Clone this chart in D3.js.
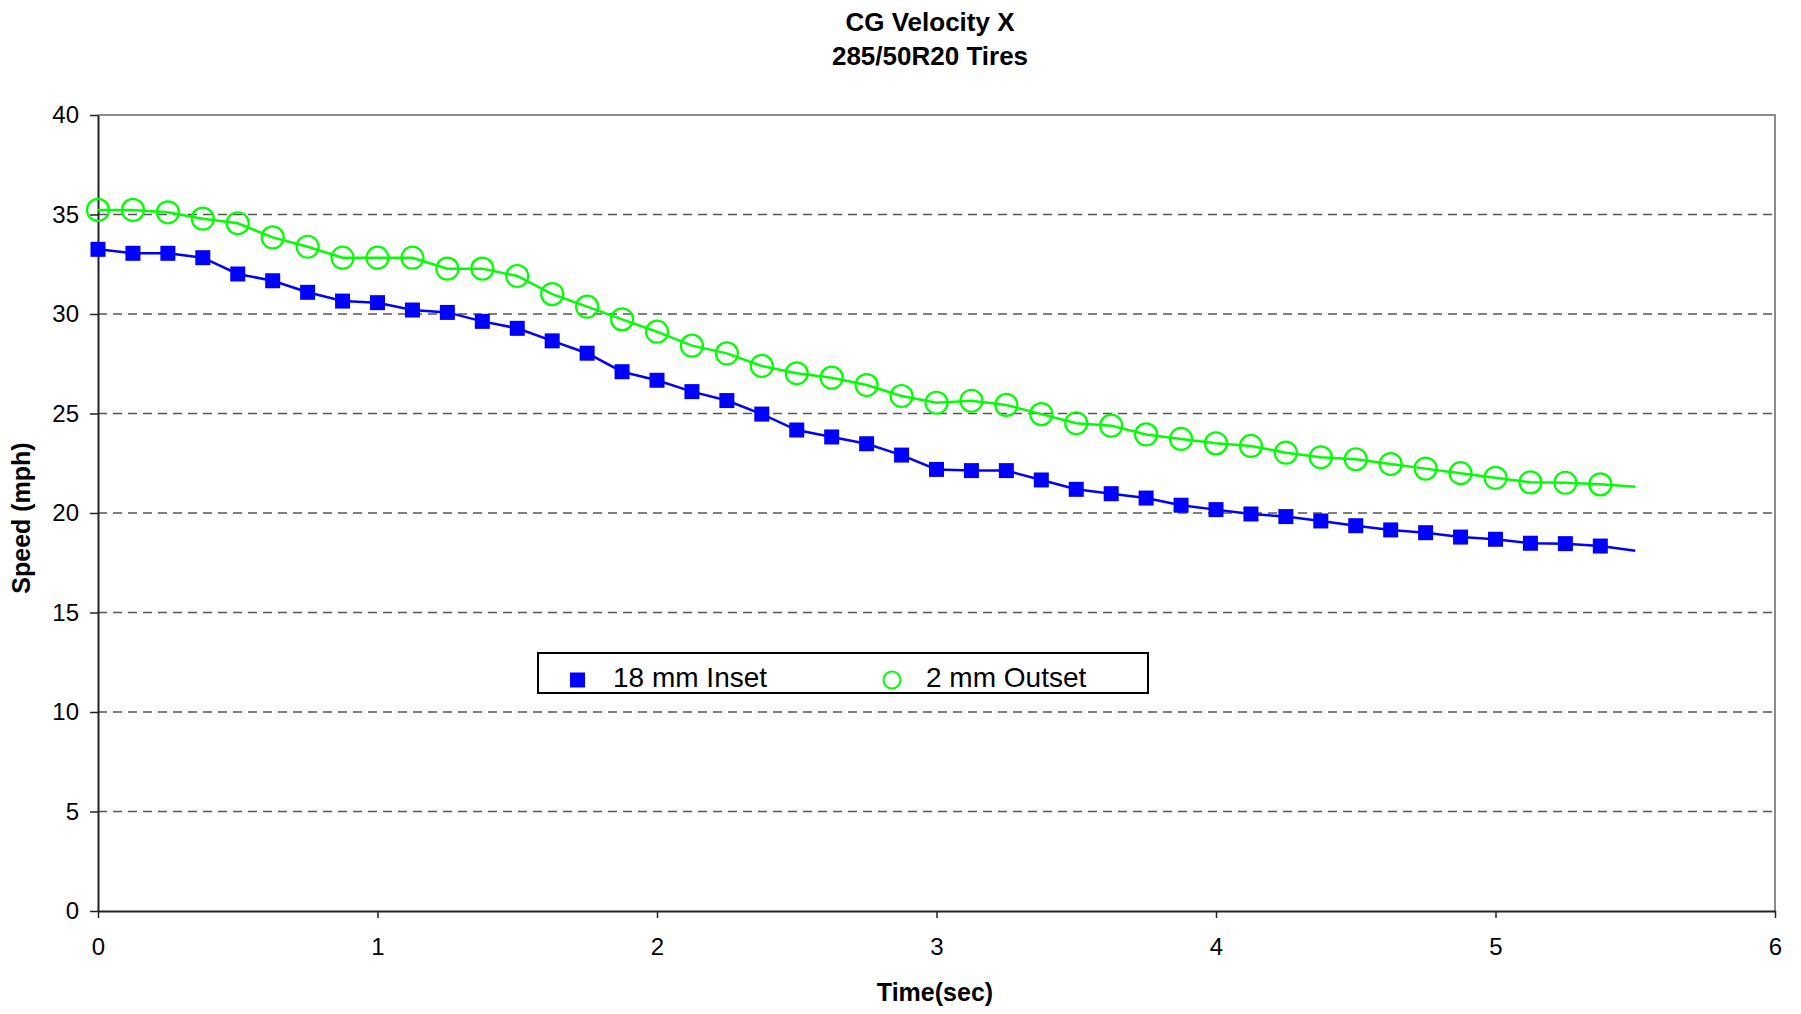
<!DOCTYPE html>
<html>
<head>
<meta charset="utf-8">
<script src="https://cdn.jsdelivr.net/npm/d3@7"></script>
<style>
  html, body { margin: 0; padding: 0; background: #fff; }
  svg { display: block; font-family: "Liberation Sans", Arial, sans-serif; }
</style>
</head>
<body>
<div id="chart"></div>
<script>
// sample times (s) where markers are drawn
const times = [0, 0.125, 0.25, 0.375, 0.5, 0.625, 0.75, 0.875, 1, 1.125, 1.25, 1.375,
  1.5, 1.625, 1.75, 1.875, 2, 2.125, 2.25, 2.375, 2.5, 2.625, 2.75, 2.875, 3, 3.125,
  3.25, 3.375, 3.5, 3.625, 3.75, 3.875, 4, 4.125, 4.25, 4.375, 4.5, 4.625, 4.75, 4.875,
  5, 5.125, 5.25, 5.375];

// speed (mph)
const inset18 = [33.25, 33.05, 33.05, 32.83, 32.01, 31.67, 31.09, 30.65, 30.57, 30.2,
  30.08, 29.63, 29.28, 28.65, 28.03, 27.1, 26.67, 26.1, 25.65, 24.97, 24.17, 23.82, 23.48,
  22.91, 22.19, 22.13, 22.13, 21.66, 21.19, 20.97, 20.75, 20.39, 20.17, 19.95, 19.82, 19.6,
  19.36, 19.15, 19.01, 18.79, 18.68, 18.48, 18.46, 18.34];
const outset2 = [35.23, 35.23, 35.11, 34.79, 34.56, 33.85, 33.38, 32.83, 32.83, 32.83,
  32.28, 32.28, 31.91, 31.0, 30.37, 29.73, 29.11, 28.41, 28.02, 27.39, 27.02, 26.8, 26.43,
  25.88, 25.54, 25.64, 25.43, 24.97, 24.51, 24.39, 23.95, 23.72, 23.5, 23.37, 23.03, 22.8,
  22.7, 22.46, 22.23, 22.0, 21.77, 21.54, 21.52, 21.44];

// the traces run a little past the last marker
const endTime = 5.5;
const inset18End = 18.1;
const outset2End = 21.32;

const xTicks = [0, 1, 2, 3, 4, 5, 6];
const yTicks = [0, 5, 10, 15, 20, 25, 30, 35, 40];
const gridTicks = [5, 10, 15, 20, 25, 30, 35];

const seriesNames = ["18 mm Inset", "2 mm Outset"];
const titleLines = ["CG Velocity X", "285/50R20 Tires"];

const width = 1801, height = 1014;
const margin = { top: 115, right: 26, bottom: 103, left: 98 };
const innerW = width - margin.left - margin.right;
const innerH = height - margin.top - margin.bottom;

const x = d3.scaleLinear().domain([0, 6]).range([0, innerW]);
const y = d3.scaleLinear().domain([0, 40]).range([innerH, 0]);

const svg = d3.select("#chart").append("svg")
  .attr("width", width)
  .attr("height", height);

// titles
svg.append("g")
  .selectAll("text")
  .data(titleLines)
  .join("text")
  .attr("x", 930)
  .attr("y", (d, i) => 31 + i * 34)
  .attr("text-anchor", "middle")
  .attr("font-size", 26)
  .attr("font-weight", "bold")
  .text((d) => d);

const g = svg.append("g").attr("transform", `translate(${margin.left},${margin.top})`);

// dashed grid
g.append("g")
  .selectAll("line")
  .data(gridTicks)
  .join("line")
  .attr("x1", 0)
  .attr("x2", innerW)
  .attr("y1", (d) => y(d))
  .attr("y2", (d) => y(d))
  .attr("stroke", "#555")
  .attr("stroke-width", 1.4)
  .attr("stroke-dasharray", "9,6");

// top + right frame
g.append("path")
  .attr("d", `M0,0H${innerW}V${innerH}`)
  .attr("fill", "none")
  .attr("stroke", "#8c8c8c")
  .attr("stroke-width", 2);

// axes
const xAxis = g.append("g")
  .attr("transform", `translate(0,${innerH})`)
  .call(d3.axisBottom(x).tickValues(xTicks).tickFormat(d3.format("d")).tickSize(7).tickPadding(20).tickSizeOuter(0));
const yAxis = g.append("g")
  .call(d3.axisLeft(y).tickValues(yTicks).tickFormat(d3.format("d")).tickSize(8).tickPadding(11).tickSizeOuter(0));

[xAxis, yAxis].forEach((a) => {
  a.select(".domain").attr("stroke", "#222").attr("stroke-width", 2);
  a.selectAll(".tick line").attr("stroke", "#222").attr("stroke-width", 1.5);
  a.selectAll(".tick text")
    .attr("font-size", 24)
    .attr("fill", "#000")
    .attr("font-family", "'Liberation Sans', Arial, sans-serif");
});

// axis titles
svg.append("text")
  .attr("x", 935)
  .attr("y", 1001)
  .attr("text-anchor", "middle")
  .attr("font-size", 25)
  .attr("font-weight", "bold")
  .text("Time(sec)");

svg.append("text")
  .attr("transform", `translate(30,${margin.top + innerH / 2 + 5}) rotate(-90)`)
  .attr("text-anchor", "middle")
  .attr("font-size", 25)
  .attr("font-weight", "bold")
  .text("Speed (mph)");

// series
const line = d3.line().x((d) => x(d[0])).y((d) => y(d[1]));

const insetPts = times.map((t, i) => [t, inset18[i]]).concat([[endTime, inset18End]]);
const outsetPts = times.map((t, i) => [t, outset2[i]]).concat([[endTime, outset2End]]);

g.append("path")
  .datum(outsetPts)
  .attr("d", line)
  .attr("fill", "none")
  .attr("stroke", "#00ff00")
  .attr("stroke-width", 2.5);

g.append("path")
  .datum(insetPts)
  .attr("d", line)
  .attr("fill", "none")
  .attr("stroke", "#0000ff")
  .attr("stroke-width", 2.5);

const sq = 15;
g.append("g")
  .selectAll("rect")
  .data(times.map((t, i) => [t, inset18[i]]))
  .join("rect")
  .attr("x", (d) => x(d[0]) - sq / 2)
  .attr("y", (d) => y(d[1]) - sq / 2)
  .attr("width", sq)
  .attr("height", sq)
  .attr("fill", "#0000ff");

g.append("g")
  .selectAll("circle")
  .data(times.map((t, i) => [t, outset2[i]]))
  .join("circle")
  .attr("cx", (d) => x(d[0]))
  .attr("cy", (d) => y(d[1]))
  .attr("r", 11)
  .attr("fill", "none")
  .attr("stroke", "#00ff00")
  .attr("stroke-width", 2.2);

// legend
const legend = svg.append("g").attr("transform", "translate(538,653)");
legend.append("rect")
  .attr("width", 610)
  .attr("height", 40)
  .attr("fill", "#fff")
  .attr("stroke", "#000")
  .attr("stroke-width", 2);

legend.append("rect")
  .attr("x", 32)
  .attr("y", 19.5)
  .attr("width", 15)
  .attr("height", 15)
  .attr("fill", "#0000ff");
legend.append("circle")
  .attr("cx", 354)
  .attr("cy", 27)
  .attr("r", 8.5)
  .attr("fill", "none")
  .attr("stroke", "#00ff00")
  .attr("stroke-width", 2);

legend.selectAll("text.lbl")
  .data(seriesNames)
  .join("text")
  .attr("class", "lbl")
  .attr("x", (d, i) => (i === 0 ? 75 : 388))
  .attr("y", 34)
  .attr("font-size", 28)
  .text((d) => d);
</script>
</body>
</html>
